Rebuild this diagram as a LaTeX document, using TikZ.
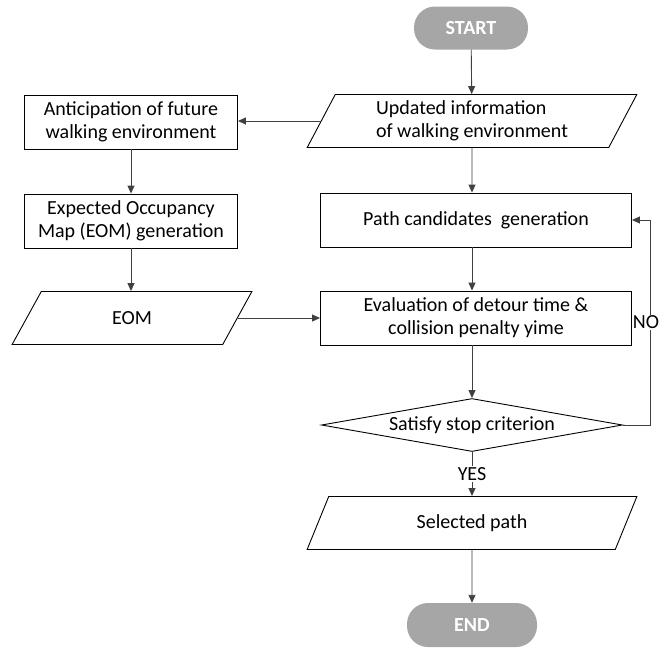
\documentclass[tikz,border=0pt]{standalone}
\usepackage{fontspec}
\setmainfont{Carlito}
\usepackage{tikz}
\usetikzlibrary{arrows.meta,shapes.geometric,positioning}
\definecolor{fcgray}{RGB}{166,166,166}
\definecolor{fcline}{RGB}{64,64,64}
\tikzstyle{arrow} = [draw=fcline, line width=0.9pt, -{Triangle[length=8pt,width=7pt]}]
\tikzstyle{terminal} = [rectangle, rounded corners=21pt, minimum width=114pt, minimum height=43pt, fill=fcgray, text=white, font=\fontsize{20}{23}\selectfont\bfseries]
\tikzstyle{process} = [rectangle, draw=black, line width=0.9pt, minimum height=54pt, align=center, inner sep=2pt]
\tikzstyle{io} = [trapezium, trapezium left angle=64, trapezium right angle=116, trapezium stretches=true, draw=black, line width=0.9pt, minimum height=53pt, inner sep=0pt]
\tikzstyle{decision} = [diamond, aspect=5.7, draw=black, line width=0.9pt, minimum width=301pt, minimum height=53pt, inner sep=0pt]
\tikzstyle{tag} = [fill=white, inner sep=1pt]

\begin{document}
\begin{tikzpicture}[x=1pt, y=-1pt, font=\fontsize{20}{23}\selectfont]
\useasboundingbox (0,0) rectangle (659,649);
% main column
\node (start) [terminal] at (471,28) {START};
\node (update) [io, minimum width=330pt, align=left] at (472,121) {Updated information\\of walking environment};
\node (cand) [process, minimum width=311pt] at (476,220) {Path candidates\ \ generation};
\node (eval) [process, minimum width=311pt] at (476,318) {Evaluation of detour time \&\\collision penalty yime};
\node (crit) [decision] at (472,425) {Satisfy stop criterion};
\node (select) [io, minimum width=330pt] at (472,523) {Selected path};
\node (end) [terminal, minimum width=130pt, minimum height=44pt] at (472,625) {END};

% side column
\node (antic) [process, minimum width=213pt] at (131,122) {Anticipation of future\\walking environment};
\node (expect) [process, minimum width=213pt] at (131,221) {Expected Occupancy\\Map (EOM) generation};
\node (eom) [io, minimum width=240pt] at (132,318) {EOM};

\draw[arrow] (start) -- (update);
\draw[arrow] (update) -- (update |- cand.north);
\draw[arrow] (cand.south -| crit) -- (crit |- eval.north);
\draw[arrow] (eval.south -| crit) -- (crit.north);
\draw[arrow] (crit) -- node[tag] {YES} (select);
\draw[arrow] (select) -- (end);
\draw[arrow] (update.west) -- (antic.east |- update.west);
\draw[arrow] (antic) -- (expect);
\draw[arrow] (expect) -- (expect |- eom.north);
\draw[arrow] (eom.east) -- (eval.west |- eom.east);
\draw[arrow] (crit.east) -- ++(27,0) |- node[tag, pos=0.25, xshift=-4pt] {NO} (cand.east);
\end{tikzpicture}
\end{document}
